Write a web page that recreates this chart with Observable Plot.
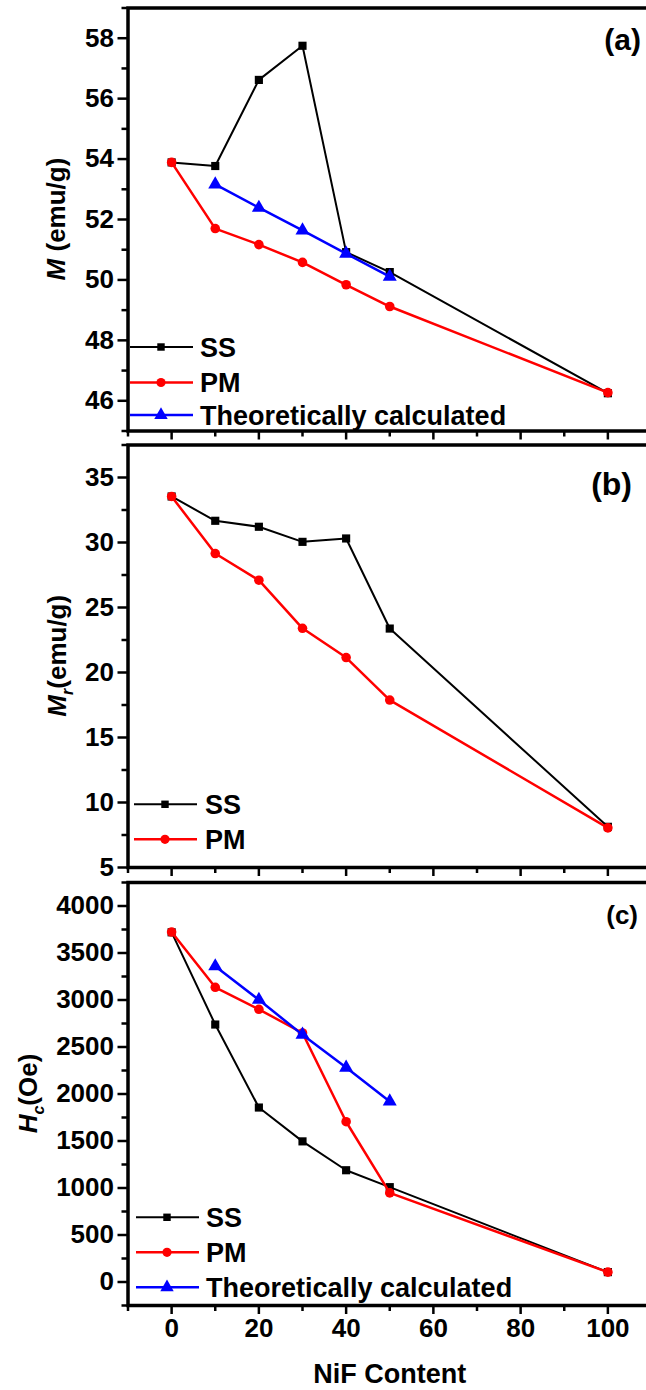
<!DOCTYPE html>
<html><head><meta charset="utf-8">
<script src="https://cdn.jsdelivr.net/npm/d3@7"></script>
<script src="https://cdn.jsdelivr.net/npm/@observablehq/plot@0.6"></script>
<style>
html,body{margin:0;padding:0;background:#fff;width:646px;overflow:hidden}
#chart{position:relative;width:646px;overflow:hidden}
#chart svg{display:block;overflow:visible;position:relative}
</style></head><body><div id="chart"></div>
<script>
// ---- data ----
const nif = [0, 10, 20, 30, 40, 50, 100];
const nifTheo = [10, 20, 30, 40, 50];
const seriesNames = ["SS", "PM", "Theoretically calculated"];

const mSS   = [53.89, 53.77, 56.62, 57.75, 50.92, 50.26, 46.25];
const mPM   = [53.89, 51.70, 51.17, 50.58, 49.84, 49.12, 46.27];
const mTheo = [53.16, 52.39, 51.64, 50.87, 50.11];

const mrSS  = [33.54, 31.67, 31.21, 30.05, 30.31, 23.38, 8.13];
const mrPM  = [33.54, 29.15, 27.10, 23.40, 21.15, 17.88, 8.05];

const hcSS   = [3720, 2739, 1856, 1496, 1189, 1009, 105];
const hcPM   = [3723, 3135, 2901, 2649, 1705, 948, 105];
const hcTheo = [3359, 3002, 2631, 2281, 1921];

const xMajor = [0, 20, 40, 60, 80, 100];
const xMinor = [-10, 10, 30, 50, 70, 90, 110];
const yMajorA = [46, 48, 50, 52, 54, 56, 58];
const yMinorA = [45, 47, 49, 51, 53, 55, 57, 59];
const yMajorB = [5, 10, 15, 20, 25, 30, 35];
const yMinorB = [7.5, 12.5, 17.5, 22.5, 27.5, 32.5, 37.5];
const yMajorC = [0, 500, 1000, 1500, 2000, 2500, 3000, 3500, 4000];
const yMinorC = [-250, 250, 750, 1250, 1750, 2250, 2750, 3250, 3750, 4250];

const FONT = "'Liberation Sans', Arial, Helvetica, sans-serif";
const colors = {SS: "#000000", PM: "#ff0000", Theo: "#0000ff"};

function table(xs, ys) { return xs.map((x, i) => ({x, y: ys[i]})); }

function panel(cfg) {
  const ss = table(nif, cfg.ss), pm = table(nif, cfg.pm);
  const theo = cfg.theo ? table(nifTheo, cfg.theo) : null;
  const marks = [
    Plot.axisY({ticks: cfg.yMinor, tickSize: 6, strokeWidth: 2.5, tickFormat: () => "", label: null}),
    Plot.axisY({ticks: cfg.yMajor, tickSize: 10, tickPadding: 4, strokeWidth: 2.5, label: null,
      tickFormat: d => String(d), fontSize: 26, fontWeight: "bold"}),
    Plot.axisX({ticks: xMinor, tickSize: 6, strokeWidth: 2.5, tickFormat: () => "", label: null}),
    Plot.axisX({ticks: xMajor, tickSize: 9, tickPadding: 4, strokeWidth: 2.5, label: null,
      tickFormat: cfg.xLabels ? (d => String(d)) : (() => ""), fontSize: 26, fontWeight: "bold"}),
    Plot.line(ss, {x: "x", y: "y", stroke: colors.SS, strokeWidth: 2}),
    Plot.dot(ss, {x: "x", y: "y", symbol: "square", r: 4.6, fill: colors.SS}),
    Plot.line(pm, {x: "x", y: "y", stroke: colors.PM, strokeWidth: 2.5}),
    Plot.dot(pm, {x: "x", y: "y", symbol: "circle", r: 4.8, fill: colors.PM})
  ];
  if (theo) {
    marks.push(Plot.line(theo, {x: "x", y: "y", stroke: colors.Theo, strokeWidth: 2.5}));
    marks.push(Plot.dot(theo, {x: "x", y: "y", symbol: "triangle", r: 5.2, fill: colors.Theo}));
  }
  if (cfg.xTitle) {
    marks.push(Plot.text([cfg.xTitle], {frameAnchor: "bottom", text: d => d, dy: 77, lineAnchor: "bottom",
      fontSize: 27, fontWeight: "bold", fill: "#000"}));
  }
  marks.push(Plot.frame({stroke: "#000", strokeWidth: 3.5}));

  const svg = Plot.plot({
    width: 646, height: cfg.height,
    marginLeft: 127.5, marginRight: -5, marginTop: cfg.mt, marginBottom: cfg.mb,
    x: {domain: [-10, 110]},
    y: {domain: cfg.yDomain},
    style: {fontFamily: FONT, fontSize: "26px", fontWeight: "bold", color: "#000", background: "transparent", overflow: "visible"},
    marks
  });

  const s = d3.select(svg);
  const frameL = 127.5, frameB = cfg.height - cfg.mb, frameT = cfg.mt;
  const midY = (frameT + frameB) / 2;

  // y-axis title with italic symbol + subscript
  const t = s.append("text")
    .attr("transform", `translate(${cfg.titleX},${midY}) rotate(-90)`)
    .attr("text-anchor", "middle").attr("dy", "0.36em")
    .attr("font-family", FONT).attr("font-weight", "bold").attr("font-size", 26).attr("fill", "#000");
  t.append("tspan").attr("font-style", "italic").text(cfg.titleSym);
  if (cfg.titleSub) {
    t.append("tspan").attr("font-size", 16).attr("font-style", "italic").attr("dy", 7).text(cfg.titleSub);
    t.append("tspan").attr("dy", -7).text(cfg.titleRest);
  } else {
    t.append("tspan").text(cfg.titleRest);
  }

  // panel tag
  s.append("text").attr("x", cfg.tagX).attr("y", cfg.tagY).attr("text-anchor", "end")
    .attr("font-family", FONT).attr("font-weight", "bold").attr("font-size", cfg.tagSize).attr("fill", "#000")
    .text(cfg.tag);

  // legend
  const L = cfg.legend;
  const syms = [d3.symbolSquare, d3.symbolCircle, d3.symbolTriangle];
  const rs = [4.2, 4.6, 5.0];
  const cols = [colors.SS, colors.PM, colors.Theo];
  const n = theo ? 3 : 2;
  for (let i = 0; i < n; i++) {
    const y = frameB + L.rows[i];
    const g = s.append("g");
    g.append("line").attr("x1", frameL + L.x1).attr("x2", frameL + L.x2).attr("y1", y).attr("y2", y)
      .attr("stroke", cols[i]).attr("stroke-width", i === 0 ? 2 : 2.5);
    g.append("path").attr("d", d3.symbol().type(syms[i]).size(rs[i] * rs[i] * Math.PI)())
      .attr("transform", `translate(${frameL + L.mx},${y})`).attr("fill", cols[i]);
    g.append("text").attr("x", frameL + L.tx).attr("y", y).attr("dy", "0.36em")
      .attr("text-anchor", "start")
      .attr("font-family", FONT).attr("font-weight", "bold").attr("font-size", 27).attr("fill", "#000")
      .text(seriesNames[i]);
  }
  return svg;
}

const root = document.getElementById("chart");
root.appendChild(panel({
  ss: mSS, pm: mPM, theo: mTheo, yDomain: [45, 59], yMajor: yMajorA, yMinor: yMinorA,
  height: 437, mt: 7.5, mb: 6.5,
  titleX: 56, titleSym: "M", titleRest: " (emu/g)",
  tag: "(a)", tagX: 641, tagY: 50, tagSize: 30,
  legend: {x1: 2.5, x2: 65.5, mx: 33.5, tx: 72.5, rows: [-83.5, -48, -15.5]}
}));
root.appendChild(panel({
  ss: mrSS, pm: mrPM, theo: null, yDomain: [5, 37.5], yMajor: yMajorB, yMinor: yMinorB,
  height: 437, mt: 7.5, mb: 7,
  titleX: 57, titleSym: "M", titleSub: "r", titleRest: "(emu/g)",
  tag: "(b)", tagX: 632, tagY: 58, tagSize: 32,
  legend: {x1: 6.5, x2: 69.5, mx: 37.5, tx: 77.5, rows: [-62.7, -27.7]}
}));
root.appendChild(panel({
  ss: hcSS, pm: hcPM, theo: hcTheo, yDomain: [-250, 4250], yMajor: yMajorC, yMinor: yMinorC,
  height: 516, mt: 8, mb: 85, xLabels: true, xTitle: "NiF Content",
  titleX: 28, titleSym: "H", titleSub: "c", titleRest: "(Oe)",
  tag: "(c)", tagX: 638, tagY: 49.5, tagSize: 26,
  legend: {x1: 8.5, x2: 71.5, mx: 39.5, tx: 78.5, rows: [-87.7, -52.7, -17.7]}
}));
</script></body></html>
